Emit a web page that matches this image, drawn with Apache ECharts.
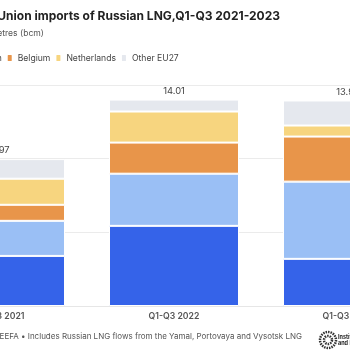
<!DOCTYPE html>
<html>
<head>
<meta charset="utf-8">
<script src="https://cdn.jsdelivr.net/npm/echarts@6/dist/echarts.min.js"></script>
<style>
  html, body { margin: 0; padding: 0; width: 350px; height: 350px; overflow: hidden; background: #fff; }
  #chart { position: absolute; left: -100px; top: 0; width: 550px; height: 350px; }
</style>
</head>
<body>
<div id="chart"></div>
<script>
// data (bcm)
const periods = ['Q1-Q3 2021', 'Q1-Q3 2022', 'Q1-Q3 2023']
const france = [3.40, 5.44, 3.20]
const spain = [2.38, 3.54, 5.24]
const belgium = [1.09, 2.11, 3.06]
const netherlands = [1.77, 2.11, 0.75]
const otherEU = [1.33, 0.81, 1.70]
const totals = [9.97, 14.01, 13.95]

const colors = ['#3563e9', '#9abff5', '#e8954a', '#f7d57f', '#e5e8ee']
const font = 'Inter, "Noto Sans", sans-serif'
const off = 100 // div is shifted left by this much

let chart = echarts.init(document.getElementById('chart'))

function bar(name, values, withTotal) {
  let s = {
    name: name,
    type: 'bar',
    stack: 'lng',
    data: values,
    barWidth: 130,
    itemStyle: {borderColor: '#fff', borderWidth: 1}
  }
  if (withTotal) {
    s.label = {
      show: true,
      position: 'top',
      distance: 4,
      color: '#444',
      fontFamily: font,
      fontSize: 9.4,
      formatter: p => totals[p.dataIndex].toFixed(2)
    }
  }
  return s
}

let option = {
  color: colors,
  animation: false,
  textStyle: {fontFamily: font},
  legend: {
    left: off - 82,
    top: 48,
    icon: 'roundRect',
    itemWidth: 6,
    itemHeight: 8,
    itemGap: 4,
    textStyle: {color: '#444', fontSize: 8.6, fontFamily: font},
    data: ['France', 'Spain', 'Belgium', 'Netherlands', 'Other EU27']
  },
  grid: {left: 13, width: 522, top: 85, height: 221},
  xAxis: {
    type: 'category',
    data: periods,
    axisLine: {lineStyle: {color: '#e6e6e6'}},
    axisTick: {show: false},
    axisLabel: {color: '#555', fontSize: 8.7, fontWeight: 600, fontFamily: font, margin: 6}
  },
  yAxis: {
    type: 'value',
    min: 0,
    max: 15,
    interval: 5,
    axisLabel: {show: false},
    splitLine: {lineStyle: {color: '#ebebeb'}}
  },
  series: [
    bar('France', france),
    bar('Spain', spain),
    bar('Belgium', belgium),
    bar('Netherlands', netherlands),
    bar('Other EU27', otherEU, true)
  ],
  graphic: [
    {
      type: 'text', x: off + 280, y: 16,
      style: {text: 'European Union imports of Russian LNG,Q1-Q3 2021-2023', fill: '#222',
        font: 'bold 12px ' + font, textAlign: 'right', textVerticalAlign: 'middle'}
    },
    {
      type: 'text', x: off + 44, y: 33,
      style: {text: 'Billion cubic metres (bcm)', fill: '#555',
        font: '8.6px ' + font, textAlign: 'right', textVerticalAlign: 'middle'}
    },
    {
      type: 'text', x: off + 302, y: 337,
      style: {text: 'Source: IEEFA \u2022 Includes Russian LNG flows from the Yamal, Portovaya and Vysotsk LNG',
        fill: '#555', font: '8px ' + font, textAlign: 'right', textVerticalAlign: 'middle'}
    },
    // logo
    {
      type: 'circle', shape: {cx: off + 328, cy: 340, r: 8},
      style: {fill: '#fff', stroke: '#333', lineWidth: 2.5, lineDash: [1.5, 1]}
    },
    {
      type: 'circle', shape: {cx: off + 328, cy: 340, r: 4},
      style: {fill: '#fff', stroke: '#333', lineWidth: 2.5, lineDash: [1.5, 1]}
    },
    {
      type: 'text', x: off + 338, y: 337,
      style: {text: 'Institute for Energy Economics', fill: '#222', font: 'bold 5.5px ' + font, textVerticalAlign: 'middle'}
    },
    {
      type: 'text', x: off + 338, y: 343,
      style: {text: 'and Financial Analysis', fill: '#222', font: 'bold 5.5px ' + font, textVerticalAlign: 'middle'}
    }
  ]
}

chart.setOption(option)
</script>
</body>
</html>
